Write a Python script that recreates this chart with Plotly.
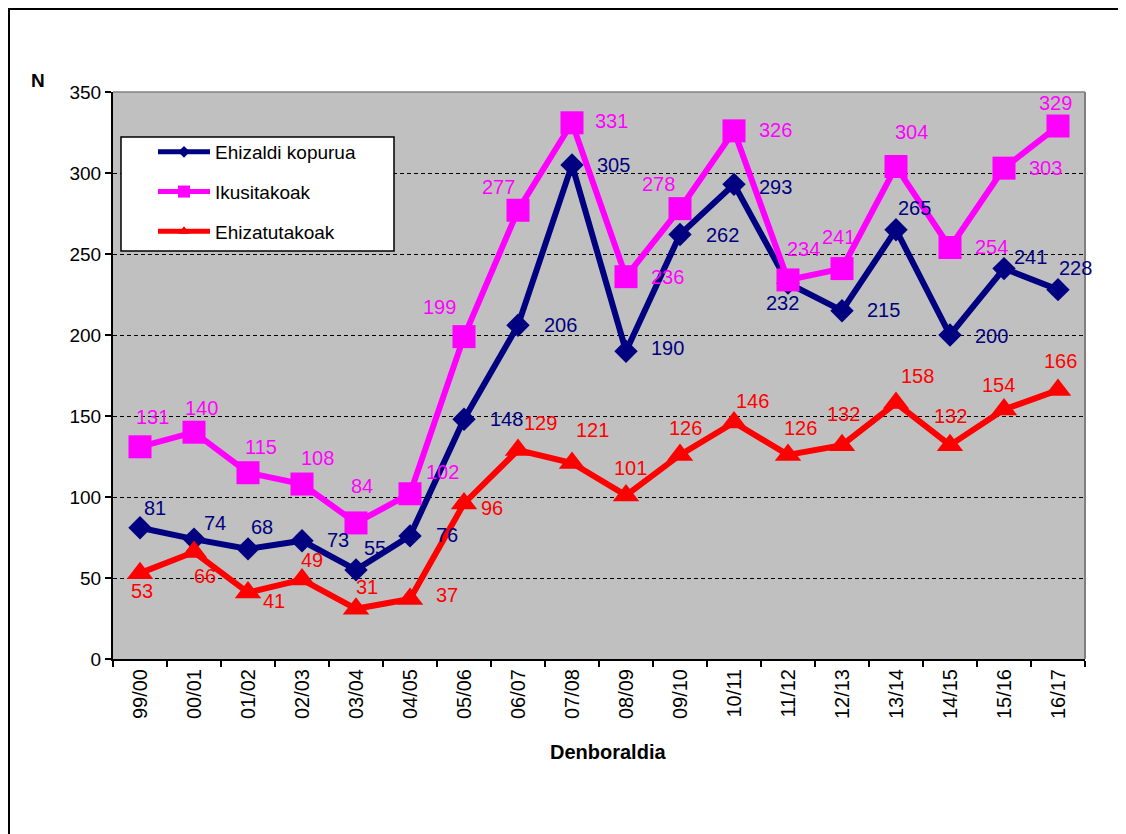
import plotly.graph_objects as go

seasons = ["99/00", "00/01", "01/02", "02/03", "03/04", "04/05", "05/06", "06/07", "07/08",
           "08/09", "09/10", "10/11", "11/12", "12/13", "13/14", "14/15", "15/16", "16/17"]
ehizaldi_kopurua = [81, 74, 68, 73, 55, 76, 148, 206, 305, 190, 262, 293, 232, 215, 265, 200, 241, 228]
ikusitakoak = [131, 140, 115, 108, 84, 102, 199, 277, 331, 236, 278, 326, 234, 241, 304, 254, 303, 329]
ehizatutakoak = [53, 66, 41, 49, 31, 37, 96, 129, 121, 101, 126, 146, 126, 132, 158, 132, 154, 166]

names = ["Ehizaldi kopurua", "Ikusitakoak", "Ehizatutakoak"]
y_ticks = [0, 50, 100, 150, 200, 250, 300, 350]

# data-label offsets in px (style): (dx, dy) with dy positive downwards
off_blue = [(15, -20), (21, -16), (14, -22), (36, -1), (19, -22), (37, -1), (42, 0), (42, 0), (41, 0),
            (41, -3), (42, 0), (41, 3), (-6, 20), (41, -1), (18, -22), (41, 1), (26, -12), (17, -22)]
off_pink = [(12, -30), (7, -24), (13, -26), (15, -26), (6, -37), (32, -22), (-25, -30), (-20, -23), (39, -2),
            (41, 0), (-22, -25), (41, -1), (15, -31), (-4, -32), (15, -35), (41, -1), (41, 0), (-3, -23)]
off_red = [(2, 18), (11, 24), (26, 8), (10, -20), (11, -22), (37, -4), (28, 5), (22, -27), (20, -33),
           (4, -27), (5, -27), (18, -21), (12, -27), (1, -31), (21, -27), (0, -29), (-6, -25), (2, -29)]

NAVY, MAGENTA, RED = "#000080", "#FF00FF", "#FF0000"
FONT = "Arial, Liberation Sans, sans-serif"

series = [
    (names[0], ehizaldi_kopurua, NAVY, "diamond", 18, off_blue, 9),
    (names[1], ikusitakoak, MAGENTA, "square", 23, off_pink, 12),
    (names[2], ehizatutakoak, RED, "triangle-up", 23, off_red, 10),
]

fig = go.Figure()
annotations = []
for name, vals, col, sym, size, offs, lsize in series:
    fig.add_trace(go.Scatter(
        x=seasons, y=vals, mode="lines+markers", name=name,
        line=dict(color=col, width=6),
        marker=dict(symbol=sym, size=size, color=col, line=dict(width=0)),
        showlegend=False, cliponaxis=False,
    ))
    for s, v, (dx, dy) in zip(seasons, vals, offs):
        annotations.append(dict(
            x=s, y=v, xref="x", yref="y", text=str(v), showarrow=False,
            xshift=dx, yshift=-dy, xanchor="center", yanchor="middle",
            font=dict(color=col, size=20, family=FONT),
        ))

# legend-only entries with small markers
for i, (name, vals, col, sym, size, offs, lsize) in enumerate(series):
    fig.add_trace(go.Scatter(
        x=[None], y=[None], mode="lines+markers", name=name,
        line=dict(color=col, width=5),
        marker=dict(symbol=sym, size=lsize, color=col),
        legendgroup=f"g{i}", showlegend=True,
    ))

# page coordinates: the page has an 8px body margin
OFF = 8
L, R, T, B = 113 - OFF, 41, 92 - OFF, 175
pw, ph = 972, 567
W, H = L + pw + R, T + ph + B


def px(x):
    return (x - 113) / pw


def py(y):
    return (659 - y) / ph


shapes = [
    dict(type="rect", xref="paper", yref="paper", x0=px(9), x1=px(1145), y0=py(850), y1=py(9),
         line=dict(color="black", width=2), fillcolor="rgba(0,0,0,0)", layer="below"),
    dict(type="rect", xref="paper", yref="paper", x0=px(121), x1=px(394), y0=py(251), y1=py(137),
         line=dict(color="black", width=1.5), fillcolor="white", layer="above"),
    dict(type="line", xref="paper", yref="paper", x0=0, x1=1, y0=1, y1=1,
         line=dict(color="#808080", width=1.5), layer="above"),
    dict(type="line", xref="paper", yref="paper", x0=1, x1=1, y0=0, y1=1,
         line=dict(color="#808080", width=2), layer="above"),
]

annotations += [
    dict(text="N", xref="paper", yref="paper", x=px(38), y=py(80), showarrow=False,
         font=dict(size=19, family=FONT, weight="bold"), xanchor="center", yanchor="middle"),
    dict(text="Denboraldia", xref="paper", yref="paper", x=px(608), y=py(752), showarrow=False,
         font=dict(size=20, family=FONT, weight="bold"), xanchor="center", yanchor="middle"),
]

fig.update_layout(
    width=W, height=H,
    margin=dict(l=L, r=R, t=T, b=B),
    paper_bgcolor="white", plot_bgcolor="#C0C0C0",
    font=dict(family=FONT, color="black"),
    shapes=shapes,
    annotations=annotations,
    showlegend=True,
    legend=dict(x=px(153), y=py(133), xanchor="left", yanchor="top",
                bgcolor="rgba(0,0,0,0)", borderwidth=0,
                font=dict(size=19, family=FONT), tracegroupgap=12,
                itemwidth=52, traceorder="grouped"),
    xaxis=dict(type="category", categoryorder="array", categoryarray=seasons,
               range=[-0.5, len(seasons) - 0.5],
               tickson="boundaries", ticks="outside", ticklen=6, tickcolor="black", tickwidth=1.5,
               showline=True, linecolor="black", linewidth=2, showgrid=False,
               tickangle=-90, tickfont=dict(size=20, family=FONT)),
    yaxis=dict(range=[0, 350], tickvals=y_ticks, ticks="outside", ticklen=6, tickcolor="black",
               tickwidth=1.5, showline=True, linecolor="black", linewidth=2,
               showgrid=True, gridcolor="black", gridwidth=1, griddash="4px,3px",
               zeroline=False, tickfont=dict(size=19, family=FONT)),
)

fig.write_html("out.html")
